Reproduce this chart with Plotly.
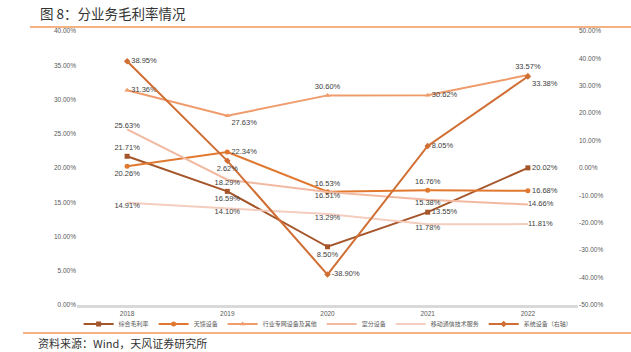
import plotly.graph_objects as go

years = ["2018", "2019", "2020", "2021", "2022"]
zonghe = [21.71, 16.59, 8.50, 13.55, 20.02]
tiankui = [20.26, 22.34, 16.53, 16.76, 16.68]
hangye = [31.36, 27.63, 30.60, 30.62, 33.57]
shifen = [25.63, 18.29, 16.51, 15.38, 14.66]
yidong = [14.91, 14.10, 13.29, 11.78, 11.81]
xitong = [38.95, 2.62, -38.90, 8.05, 33.38]

left_ticks = [0, 5, 10, 15, 20, 25, 30, 35, 40]
right_ticks = [-50, -40, -30, -20, -10, 0, 10, 20, 30, 40, 50]

FONT = "Liberation Sans, Arial, Noto Sans CJK SC, sans-serif"
CJK = "Noto Sans CJK SC, sans-serif"
LBL = dict(size=7.5, color="#404040", family=FONT)

series = [
    ("综合毛利率", zonghe, "#A5552A", "square", "lines+markers",
     ["top center", "bottom center", "bottom center", "middle right", "middle right"], "y"),
    ("天馈设备", tiankui, "#E0782F", "circle", "lines+markers",
     ["bottom center", "middle right", "top center", "top center", "middle right"], "y"),
    ("行业专网设备及其他", hangye, "#EF9B6B", "triangle-up", "lines+markers",
     ["middle right", "bottom right", "top center", "middle right", "top center"], "y"),
    ("室分设备", shifen, "#F2B9A1", "circle", "lines",
     ["top center", "bottom center", "bottom center", "bottom center", "middle right"], "y"),
    ("移动通信技术服务", yidong, "#F4CDBF", "circle", "lines",
     ["bottom center", "bottom center", "bottom center", "bottom center", "middle right"], "y"),
    ("系统设备（右轴）", xitong, "#D06E33", "diamond", "lines+markers",
     ["middle right", "bottom center", "middle right", "middle right", "bottom right"], "y2"),
]

fig = go.Figure()
for name, vals, color, sym, mode, pos, ax in series:
    fig.add_trace(go.Scatter(
        x=years, y=vals, name=name, yaxis=ax,
        mode=mode + "+text",
        text=[f"{v:.2f}%" for v in vals],
        textposition=pos,
        textfont=LBL,
        line=dict(color=color, width=2),
        marker=dict(symbol=sym, size=5, color=color),
        cliponaxis=False,
    ))

fig.update_layout(
    width=631, height=352,
    margin=dict(l=77, r=53, t=31, b=47, autoexpand=False),
    paper_bgcolor="white", plot_bgcolor="white",
    showlegend=True,
    legend=dict(orientation="h", xref="container", x=0.52, xanchor="center",
                yref="container", y=(352 - 324) / 352, yanchor="middle",
                font=dict(size=6, color="#595959", family=CJK),
                itemwidth=30, tracegroupgap=0, bgcolor="rgba(0,0,0,0)"),
    xaxis=dict(type="category", range=[-0.5, 4.5], showgrid=False, zeroline=False,
               showline=True, linecolor="#D9D9D9", linewidth=3,
               ticks="", tickfont=dict(size=6.5, color="#595959", family=FONT)),
    yaxis=dict(range=[0, 40], tickvals=left_ticks,
               ticktext=[f"{v:.2f}%" for v in left_ticks],
               showgrid=False, zeroline=False, showline=False,
               tickfont=dict(size=6.5, color="#595959", family=FONT), ticks=""),
    yaxis2=dict(range=[-50, 50], tickvals=right_ticks,
                ticktext=[f"{v:.2f}%" for v in right_ticks],
                overlaying="y", side="right", showgrid=False, zeroline=False,
                tickfont=dict(size=6.5, color="#595959", family=FONT), ticks=""),
)

fig.add_annotation(text="图 8：分业务毛利率情况", xref="paper", yref="paper",
                   x=(38 - 77) / 501, y=(305 - 13) / 274, xanchor="left", yanchor="middle",
                   showarrow=False, font=dict(size=13.5, color="#333333", family=CJK))
fig.add_annotation(text="资料来源：Wind，天风证券研究所", xref="paper", yref="paper",
                   x=(36 - 77) / 501, y=(305 - 343) / 274, xanchor="left", yanchor="middle",
                   showarrow=False, font=dict(size=11, color="#333333", family=CJK))

fig.add_shape(type="line", xref="paper", yref="paper",
              x0=(30 - 77) / 501, x1=(631 - 77) / 501,
              y0=(305 - 27) / 274, y1=(305 - 27) / 274,
              line=dict(color="#F4B183", width=2))
fig.add_shape(type="line", xref="paper", yref="paper",
              x0=(23 - 77) / 501, x1=(631 - 77) / 501,
              y0=(305 - 333) / 274, y1=(305 - 333) / 274,
              line=dict(color="#F4B183", width=2))

fig.write_html("out.html")
